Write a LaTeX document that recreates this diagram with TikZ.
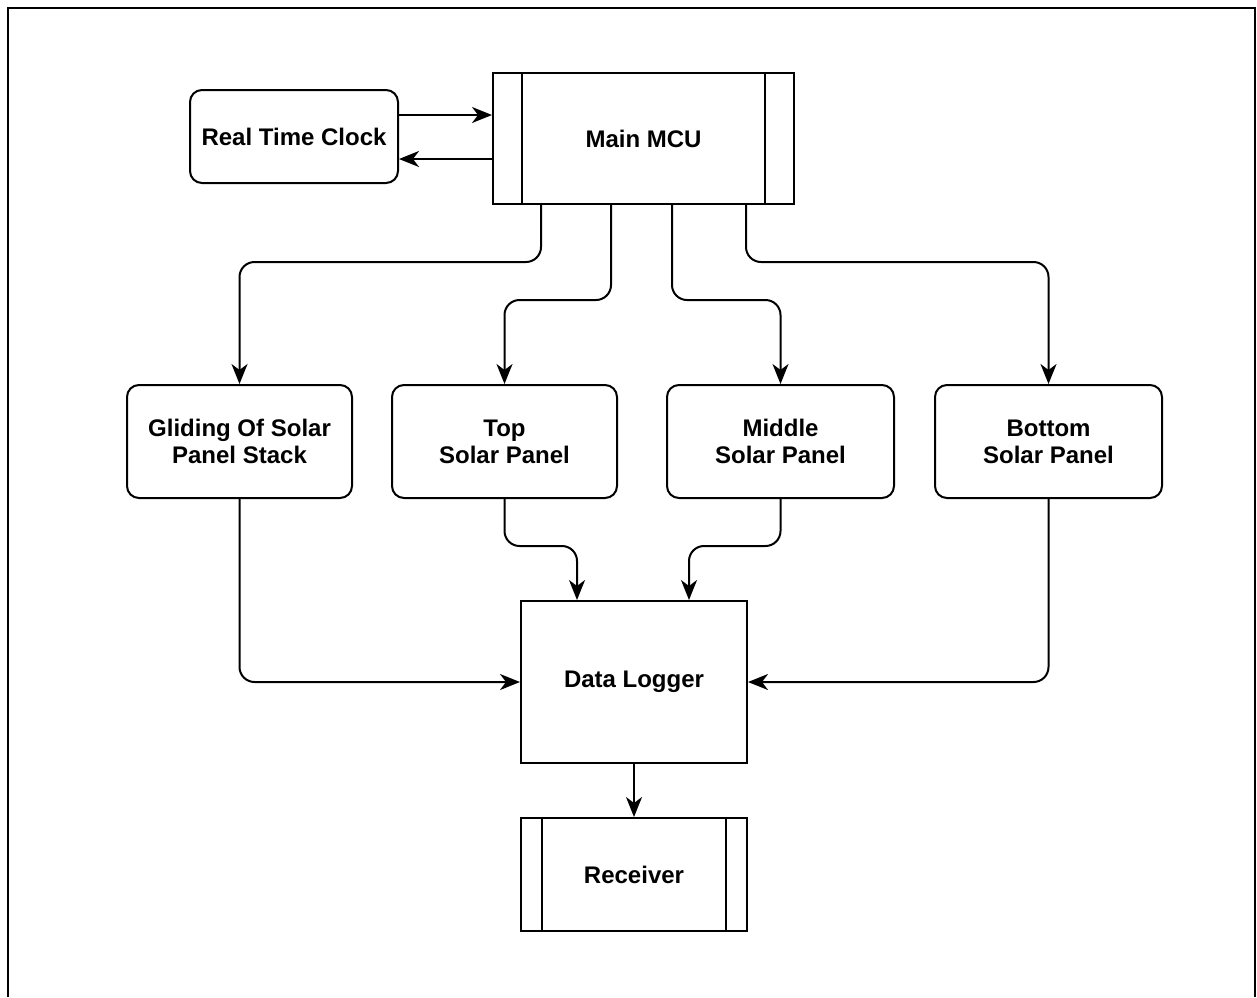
\documentclass[tikz,border=0pt]{standalone}
\usepackage{fontspec}
\setmainfont{Liberation Sans}
\usetikzlibrary{arrows.meta,calc}
\begin{document}
\begin{tikzpicture}[x=0.5pt,y=-0.5pt,
  every node/.style={font=\bfseries\fontsize{12}{13.5}\selectfont, line width=1pt, draw, align=center, inner sep=0pt},
  rbox/.style={rounded corners=6pt},
  conn/.style={line width=1pt, rounded corners=7.5pt, -{Stealth[length=10pt,width=8pt,inset=3pt]}},
]
\useasboundingbox (0,0) rectangle (1257,997);
\draw[line width=1pt] (8,997) -- (8,8) -- (1255,8) -- (1255,997);

\node[rbox, minimum width=104pt, minimum height=46.5pt] (rtc) at (294,136.5) {Real Time Clock};
\node[minimum width=150.5pt, minimum height=65.5pt] (mcu) at (643.5,138.5) {Main MCU};
\draw[line width=1pt] ([xshift=15pt]mcu.north west) -- ([xshift=15pt]mcu.south west);
\draw[line width=1pt] ([xshift=-15pt]mcu.north east) -- ([xshift=-15pt]mcu.south east);

\node[rbox, minimum width=112.5pt, minimum height=56.5pt] (g) at (239.5,441.5) {Gliding Of Solar\\Panel Stack};
\node[rbox, minimum width=112.5pt, minimum height=56.5pt] (t) at (504.5,441.5) {Top\\Solar Panel};
\node[rbox, minimum width=113.5pt, minimum height=56.5pt] (m) at (780.5,441.5) {Middle\\Solar Panel};
\node[rbox, minimum width=113.5pt, minimum height=56.5pt] (b) at (1048.5,441.5) {Bottom\\Solar Panel};

\node[minimum width=113pt, minimum height=81pt] (dl) at (634,682) {Data Logger};
\node[minimum width=113pt, minimum height=56.5pt] (r) at (634,874.5) {Receiver};
\draw[line width=1pt] ([xshift=11pt]r.north west) -- ([xshift=11pt]r.south west);
\draw[line width=1pt] ([xshift=-11pt]r.north east) -- ([xshift=-11pt]r.south east);

\coordinate (r1) at ([yshift=10.75pt]rtc.east);
\coordinate (r2) at ([yshift=-11.25pt]rtc.east);
\draw[conn] (r1) -- (r1 -| mcu.west);
\draw[conn] (r2 -| mcu.west) -- (r2);

\draw[conn] ($(mcu.south west)+(49,0)$) -- ++(0,57) -| (g.north);
\draw[conn] ($(mcu.south west)+(119,0)$) -- ++(0,95) -| (t.north);
\draw[conn] ($(mcu.south west)+(180,0)$) -- ++(0,95) -| (m.north);
\draw[conn] ($(mcu.south west)+(254,0)$) -- ++(0,57) -| (b.north);

\draw[conn] (t.south) -- ++(0,47) -| ($(dl.north west)+(57,0)$);
\draw[conn] (m.south) -- ++(0,47) -| ($(dl.north west)+(169,0)$);
\draw[conn] (g.south) |- (dl.west);
\draw[conn] (b.south) |- (dl.east);
\draw[conn] (dl.south) -- (r.north);
\end{tikzpicture}
\end{document}
